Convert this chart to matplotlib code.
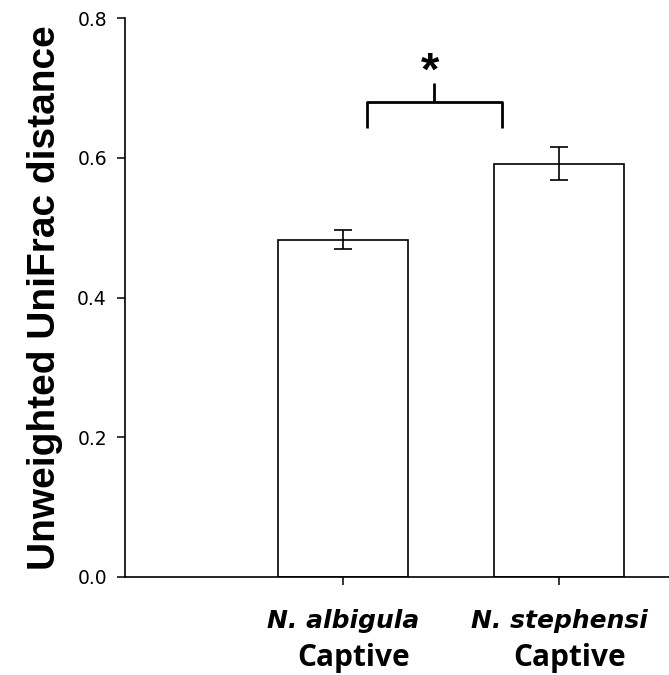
import matplotlib
matplotlib.use('Agg')
import numpy as np
import matplotlib.pyplot as plt

# data
species = ['N. albigula', 'N. stephensi']
condition = ['Captive', 'Captive']
distance = [0.483, 0.5915]
sem = [0.0136, 0.024]
positions = [1, 2]

yticks = [0.0, 0.2, 0.4, 0.6, 0.8]

fig = plt.figure(figsize=(6.69, 6.75), dpi=100)
ax = fig.add_axes([0.1868, 0.1452, 0.8132, 0.8281])

ax.bar(positions, distance, width=0.6, color='white', edgecolor='black',
       linewidth=1.2, zorder=2)
ax.errorbar(positions, distance, yerr=sem, fmt='none', ecolor='black',
            elinewidth=1.2, capsize=6.4, capthick=1.2, zorder=3)

ax.set_xlim(-0.009, 2.509)
ax.set_ylim(0, 0.8)
ax.set_yticks(yticks)
ax.set_yticklabels(['{:.1f}'.format(t) for t in yticks],
                   family='DejaVu Sans', fontsize=13.5)
ax.set_xticks(positions)
ax.set_xticklabels(species, family='DejaVu Sans', fontsize=18,
                   fontweight='bold', fontstyle='italic')
ax.tick_params(axis='both', direction='out', length=6, width=1.1)
ax.tick_params(axis='x', pad=17)
ax.tick_params(axis='y', pad=7)

for pos, cond in zip(positions, condition):
    ax.text(pos + 0.05, -0.116, cond, ha='center', va='center',
            family='Open Sans', fontweight='bold', fontsize=21.5,
            transform=ax.transData, clip_on=False)

ax.spines['top'].set_visible(False)
ax.spines['right'].set_visible(False)
ax.spines['left'].set_linewidth(1.2)
ax.spines['bottom'].set_linewidth(1.2)

ax.set_ylabel('Unweighted UniFrac distance', family='Liberation Sans',
              fontsize=28, fontweight='bold', labelpad=10)

# significance bracket
bx0, bx1 = 1.11, 1.735
by, bleg, btop = 0.680, 0.643, 0.707
ax.plot([bx0, bx0, bx1, bx1], [bleg, by, by, bleg], color='black', lw=2.0,
        clip_on=False, solid_capstyle='butt')
xm = (bx0 + bx1) / 2
ax.plot([xm, xm], [by, btop], color='black', lw=2.0, clip_on=False,
        solid_capstyle='butt')
ax.text(xm - 0.02, 0.722, '*', ha='center', va='center', fontsize=34,
        fontweight='bold', family='Liberation Sans')

fig.savefig('out.png', dpi=100)
